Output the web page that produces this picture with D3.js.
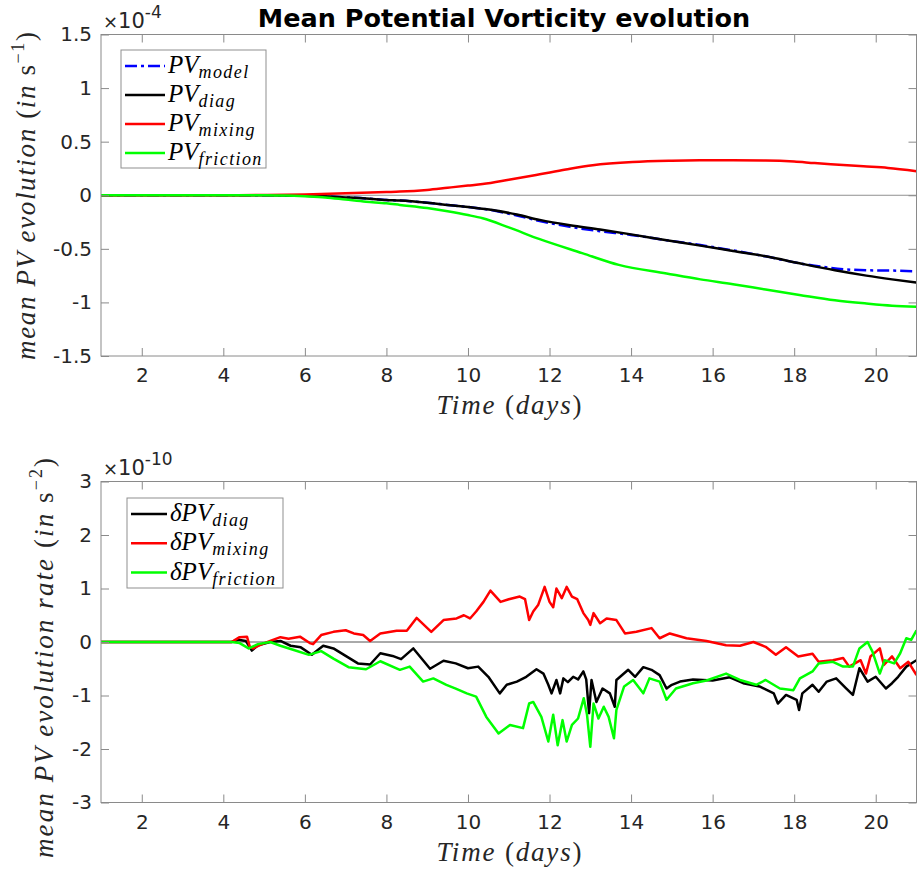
<!DOCTYPE html>
<html>
<head>
<meta charset="utf-8">
<script src="https://cdn.jsdelivr.net/npm/d3@7"></script>
<style>
body { margin: 0; background: #fff; }
svg { display: block; }
.tick text { font-family: "DejaVu Sans", sans-serif; font-size: 20px; fill: #262626; }
.math { font-family: "Liberation Serif", "DejaVu Serif", serif; fill: #262626; }
</style>
</head>
<body>
<div id="chart"></div>
<script>
// Set up SVG params
var svgWdt = 917;
var svgHgt = 874;

// x axis (days) shared by both panels
var dayDomain = [1, 21];
var dayTicks = [2, 4, 6, 8, 10, 12, 14, 16, 18, 20];

// Top panel: mean PV (x1e-4 s^-1), [day, value]
var pvModel = [[1,0],[5,0],[6,-0.005],[7,-0.02],[7.5,-0.03],[8,-0.045],[8.33,-0.05],[9,-0.07],[9.5,-0.09],[10,-0.11],
    [10.6,-0.14],[11.2,-0.19],[11.76,-0.24],[12.5,-0.295],[13.24,-0.335],[14,-0.37],[14.87,-0.42],[15.7,-0.465],
    [16.5,-0.515],[17.3,-0.57],[18.13,-0.635],[18.5,-0.657],[19.2,-0.69],[19.77,-0.70],[20.4,-0.703],[21,-0.71]];
var pvDiag = [[1,0],[5,0],[6,-0.005],[7,-0.02],[7.5,-0.03],[8,-0.045],[8.33,-0.05],[9,-0.07],[9.5,-0.09],[10,-0.11],
    [10.6,-0.137],[11.2,-0.18],[11.76,-0.23],[12.5,-0.28],[13.24,-0.32],[14,-0.365],[14.87,-0.42],[15.7,-0.47],
    [16.5,-0.52],[17.3,-0.57],[18.13,-0.635],[19,-0.70],[19.77,-0.75],[20.4,-0.785],[21,-0.815]];
var pvMixing = [[1,0],[4,0],[5,0.002],[6,0.008],[7,0.018],[8,0.03],[8.33,0.034],[9,0.05],[9.5,0.07],[10,0.09],
    [10.36,0.105],[11,0.145],[11.76,0.196],[12.4,0.24],[13.06,0.28],[14.04,0.31],[15,0.322],[15.68,0.326],
    [16.5,0.327],[17.3,0.325],[18,0.315],[18.5,0.30],[19.1,0.285],[19.7,0.27],[20.3,0.255],[21,0.225]];
var pvFriction = [[1,0],[5,0],[5.5,-0.003],[6,-0.01],[6.5,-0.02],[7,-0.04],[7.5,-0.06],[8,-0.075],[8.33,-0.09],
    [9,-0.12],[9.5,-0.15],[10,-0.185],[10.36,-0.215],[11,-0.3],[11.76,-0.41],[12.8,-0.54],[13.7,-0.65],[14.87,-0.73],
    [15.7,-0.785],[16.5,-0.83],[17.3,-0.88],[18.13,-0.93],[19,-0.98],[19.77,-1.01],[20.4,-1.03],[21,-1.04]];

// Bottom panel: mean PV evolution rate (x1e-10 s^-2), [day, value]
var rateDiag = [[1,0],[4.2,0],[4.37,0.04],[4.55,0.02],[4.7,-0.16],[4.85,-0.06],[5.15,0.0],[5.4,0.02],[5.65,-0.07],
    [5.9,-0.1],[6.17,-0.24],[6.45,-0.07],[6.7,-0.12],[7.0,-0.26],[7.3,-0.4],[7.6,-0.42],[7.85,-0.21],[8.15,-0.26],
    [8.36,-0.32],[8.66,-0.12],[9.07,-0.5],[9.4,-0.35],[9.7,-0.4],[10.0,-0.49],[10.25,-0.46],[10.5,-0.65],[10.78,-0.96],
    [10.95,-0.8],[11.2,-0.74],[11.43,-0.65],[11.68,-0.51],[11.85,-0.59],[11.97,-0.8],[12.05,-0.96],[12.17,-0.71],
    [12.26,-0.96],[12.34,-0.68],[12.45,-0.75],[12.58,-0.65],[12.7,-0.7],[12.83,-0.55],[12.9,-0.7],[12.97,-1.33],
    [13.03,-0.71],[13.15,-1.12],[13.3,-0.87],[13.48,-0.96],[13.6,-1.21],[13.64,-0.71],[13.93,-0.52],[14.1,-0.65],
    [14.3,-0.47],[14.5,-0.52],[14.7,-0.62],[14.87,-0.87],[15.0,-0.8],[15.2,-0.74],[15.52,-0.7],[16.0,-0.72],
    [16.42,-0.66],[16.75,-0.77],[17.15,-0.83],[17.5,-0.96],[17.6,-1.15],[17.8,-0.99],[18.06,-1.08],[18.12,-1.27],
    [18.2,-0.96],[18.45,-0.8],[18.6,-0.93],[18.8,-0.74],[19.03,-0.68],[19.28,-0.87],[19.44,-0.99],[19.6,-0.49],
    [19.8,-0.74],[20.0,-0.65],[20.25,-0.87],[20.4,-0.77],[20.55,-0.65],[20.75,-0.46],[21,-0.34]];
var rateMixing = [[1,0],[4.2,0],[4.25,0.02],[4.4,0.09],[4.58,0.1],[4.65,-0.09],[4.73,-0.12],[4.95,-0.04],[5.15,0.02],
    [5.4,0.09],[5.6,0.06],[5.88,0.1],[6.12,-0.02],[6.2,-0.04],[6.4,0.13],[6.7,0.19],[7.0,0.22],[7.2,0.16],[7.43,0.13],
    [7.6,0.02],[7.85,0.16],[8.25,0.21],[8.5,0.21],[8.74,0.45],[9.1,0.19],[9.4,0.41],[9.72,0.44],[9.9,0.5],[10.05,0.44],
    [10.2,0.57],[10.38,0.75],[10.55,0.96],[10.8,0.75],[11.0,0.8],[11.27,0.85],[11.4,0.8],[11.5,0.41],[11.6,0.57],
    [11.72,0.69],[11.88,1.03],[12.0,0.75],[12.09,0.65],[12.17,1.0],[12.3,0.82],[12.42,1.03],[12.55,0.85],[12.68,0.8],
    [12.83,0.54],[12.95,0.41],[13.0,0.32],[13.08,0.54],[13.24,0.35],[13.4,0.44],[13.64,0.41],[13.85,0.16],[14.13,0.19],
    [14.5,0.26],[14.7,0.07],[14.95,0.16],[15.36,0.07],[15.85,0.02],[16.33,-0.06],[16.67,-0.07],[17.0,0.0],[17.3,-0.09],
    [17.55,-0.24],[17.8,-0.1],[18.1,-0.27],[18.45,-0.22],[18.6,-0.37],[18.95,-0.34],[19.2,-0.3],[19.35,-0.46],
    [19.63,-0.34],[19.76,-0.59],[19.87,-0.27],[20.1,-0.12],[20.2,-0.43],[20.4,-0.27],[20.6,-0.49],[20.8,-0.37],[21,-0.62]];
var rateFriction = [[1,0],[4.2,0],[4.4,-0.02],[4.62,-0.12],[4.85,-0.04],[5.15,0.0],[5.4,-0.07],[5.73,-0.15],[6.1,-0.24],
    [6.4,-0.17],[6.7,-0.31],[7.07,-0.47],[7.5,-0.51],[7.85,-0.36],[8.33,-0.52],[8.57,-0.46],[8.9,-0.74],[9.15,-0.68],
    [9.47,-0.8],[9.7,-0.87],[9.97,-0.96],[10.2,-1.02],[10.45,-1.4],[10.75,-1.71],[11.03,-1.55],[11.35,-1.61],[11.5,-1.15],
    [11.6,-1.12],[11.8,-1.4],[11.97,-1.86],[12.09,-1.36],[12.2,-1.93],[12.32,-1.46],[12.42,-1.86],[12.55,-1.55],
    [12.7,-1.43],[12.84,-1.05],[12.92,-1.36],[13.0,-1.96],[13.08,-1.15],[13.2,-1.43],[13.33,-1.21],[13.45,-1.4],
    [13.58,-1.8],[13.64,-1.27],[13.83,-0.83],[14.05,-0.71],[14.3,-0.96],[14.45,-0.68],[14.7,-0.74],[14.87,-1.08],
    [15.1,-0.87],[15.52,-0.77],[15.85,-0.72],[16.33,-0.59],[16.67,-0.71],[17.07,-0.8],[17.3,-0.71],[17.65,-0.87],
    [17.98,-0.9],[18.14,-0.68],[18.45,-0.55],[18.6,-0.4],[18.95,-0.37],[19.2,-0.46],[19.44,-0.46],[19.6,-0.12],
    [19.8,0.0],[19.92,-0.18],[20.1,-0.59],[20.22,-0.34],[20.45,-0.4],[20.6,-0.21],[20.75,0.07],[20.87,0.04],[21,0.22]];

// Tick values
var topTicks = [-1.5, -1, -0.5, 0, 0.5, 1, 1.5];
var botTicks = [-3, -2, -1, 0, 1, 2, 3];

// Legend subscripts
var topSubs = ["model", "diag", "mixing", "friction"];
var botSubs = ["diag", "mixing", "friction"];

var svg = d3.select("#chart").append("svg")
    .attr("width", svgWdt)
    .attr("height", svgHgt);

// Title
svg.append("text")
    .attr("x", 504).attr("y", 27)
    .attr("text-anchor", "middle")
    .style("font-family", "'DejaVu Sans', sans-serif")
    .style("font-weight", "bold")
    .style("font-size", "25.5px")
    .style("fill", "#000")
    .text("Mean Potential Vorticity evolution");

// Draw one axes panel
function drawPanel(p) {
    var x = d3.scaleLinear().domain(dayDomain).range([101, 916.5]);
    var y = d3.scaleLinear().domain(p.yDomain).range([p.bottom, p.top]);
    var g = svg.append("g");

    g.append("clipPath").attr("id", p.id + "clip")
        .append("rect")
        .attr("x", 101).attr("y", p.top)
        .attr("width", 916.5 - 101).attr("height", p.bottom - p.top);

    // zero line
    g.append("line")
        .attr("x1", 101).attr("x2", 916.5)
        .attr("y1", y(0)).attr("y2", y(0))
        .attr("stroke", p.zeroColor).attr("stroke-width", 1);

    var line = d3.line()
        .x(d => x(d[0]))
        .y(d => y(d[1]))
        .curve(p.curve);

    var plot = g.append("g").attr("clip-path", `url(#${p.id}clip)`);
    p.series.forEach(s => {
        plot.append("path")
            .attr("d", line(s.data))
            .attr("fill", "none")
            .attr("stroke", s.color)
            .attr("stroke-width", 2.5)
            .attr("stroke-linejoin", "round")
            .attr("stroke-dasharray", s.dash || null);
    });

    // axes (ticks inside on all four sides)
    var axB = g.append("g").attr("transform", `translate(0, ${p.bottom})`)
        .call(d3.axisBottom(x).tickValues(dayTicks).tickSizeInner(-8).tickSizeOuter(0).tickPadding(12).tickFormat(d => d));
    var axT = g.append("g").attr("transform", `translate(0, ${p.top})`)
        .call(d3.axisTop(x).tickValues(dayTicks).tickSizeInner(-8).tickSizeOuter(0).tickFormat(""));
    var axL = g.append("g").attr("transform", "translate(101, 0)")
        .call(d3.axisLeft(y).tickValues(p.yTicks).tickSizeInner(-8).tickSizeOuter(0).tickPadding(9).tickFormat(d => String(d)));
    var axR = g.append("g").attr("transform", "translate(916.5, 0)")
        .call(d3.axisRight(y).tickValues(p.yTicks).tickSizeInner(-8).tickSizeOuter(0).tickFormat(""));
    [axB, axT, axL, axR].forEach(a => {
        a.select(".domain").remove();
        a.selectAll(".tick line").attr("stroke", "#8a8a8a");
    });

    // box
    g.append("rect")
        .attr("x", 101).attr("y", p.top)
        .attr("width", 916.5 - 101).attr("height", p.bottom - p.top)
        .attr("fill", "none").attr("stroke", "#8a8a8a").attr("stroke-width", 1);

    // exponent
    var ex = g.append("text")
        .attr("x", 103).attr("y", p.top - 7)
        .style("font-family", "'DejaVu Sans', sans-serif")
        .style("font-size", "21px").style("fill", "#262626");
    ex.append("tspan").style("font-size", "18px").text("\u00d7");
    ex.append("tspan").text("10");
    ex.append("tspan").attr("dy", -10).style("font-size", "17px").text(p.exponent);

    // x label
    var xl = g.append("text").attr("class", "math")
        .attr("x", 509).attr("y", p.bottom + 58)
        .attr("text-anchor", "middle")
        .attr("textLength", 145).attr("lengthAdjust", "spacing")
        .style("font-size", "27px");
    xl.append("tspan").style("font-style", "italic").text("Time ");
    xl.append("tspan").text("(");
    xl.append("tspan").style("font-style", "italic").text("days");
    xl.append("tspan").text(")");

    // y label
    var yl = g.append("text").attr("class", "math")
        .attr("transform", "rotate(-90)")
        .attr("x", -p.yLabelCenter).attr("y", p.yLabelX)
        .attr("text-anchor", "middle")
        .attr("textLength", p.yLabelLen).attr("lengthAdjust", "spacing")
        .style("font-size", "27px");
    yl.append("tspan").style("font-style", "italic").text(p.yLabel + " ");
    yl.append("tspan").text("(");
    yl.append("tspan").style("font-style", "italic").text("in");
    yl.append("tspan").text(" s");
    yl.append("tspan").attr("dy", -11).style("font-size", "18px").text(p.yUnitExp);
    yl.append("tspan").attr("dy", 11).text(")");

    // legend
    var lg = p.legend;
    g.append("rect")
        .attr("x", lg.x).attr("y", lg.y)
        .attr("width", lg.w).attr("height", lg.h)
        .attr("fill", "#fff").attr("stroke", "#8f8f8f").attr("stroke-width", 1);
    p.series.forEach((s, i) => {
        var ly = lg.row0 + i * lg.step;
        g.append("line")
            .attr("x1", lg.x + 4).attr("x2", lg.x + 4 + lg.len)
            .attr("y1", ly).attr("y2", ly)
            .attr("stroke", s.color).attr("stroke-width", 2.5)
            .attr("stroke-dasharray", s.dash || null);
        var t = g.append("text").attr("class", "math")
            .attr("x", lg.x + lg.len + 7).attr("y", ly + 7)
            .style("font-size", "25px").style("font-style", "italic")
            .style("fill", "#000");
        t.append("tspan").text(lg.prefix + "PV");
        t.append("tspan").attr("dy", 5).style("font-size", "18px")
            .style("letter-spacing", "1.4px").text(lg.subs[i]);
    });
}

drawPanel({
    id: "top", top: 34.5, bottom: 356,
    yDomain: [-1.5, 1.5], yTicks: topTicks,
    exponent: "-4", curve: d3.curveMonotoneX,
    zeroColor: "#909090",
    yLabel: "mean PV evolution", yUnitExp: "\u22121",
    yLabelCenter: 196, yLabelX: 35, yLabelLen: 328,
    series: [
        {data: pvModel, color: "#0000ff", dash: "12,4,3,4"},
        {data: pvDiag, color: "#000000"},
        {data: pvMixing, color: "#ff0000"},
        {data: pvFriction, color: "#00ff00"}
    ],
    legend: {x: 121, y: 50, w: 145, h: 118, row0: 66, step: 29, len: 40, prefix: "", subs: topSubs}
});

drawPanel({
    id: "bot", top: 481.5, bottom: 802.5,
    yDomain: [-3, 3], yTicks: botTicks,
    exponent: "-10", curve: d3.curveLinear,
    zeroColor: "#555555",
    yLabel: "mean PV evolution rate", yUnitExp: "\u22122",
    yLabelCenter: 658, yLabelX: 53, yLabelLen: 400,
    series: [
        {data: rateDiag, color: "#000000"},
        {data: rateMixing, color: "#ff0000"},
        {data: rateFriction, color: "#00ff00"}
    ],
    legend: {x: 127, y: 498, w: 156, h: 90, row0: 514, step: 29.3, len: 36, prefix: "\u03b4", subs: botSubs}
});
</script>
</body>
</html>
